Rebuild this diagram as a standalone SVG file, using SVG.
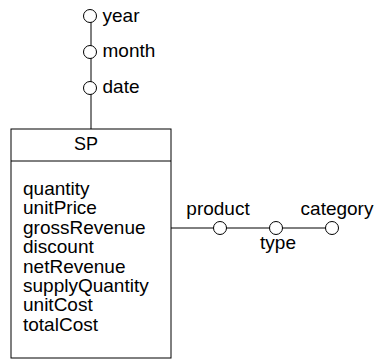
<svg xmlns="http://www.w3.org/2000/svg" width="374" height="361" viewBox="0 0 374 361">
<style>
text{font-family:"Liberation Sans",Arial,sans-serif;font-size:19px;fill:#000}
.hd{font-size:18px}
.ln{stroke:#000;stroke-width:1;fill:none}
.lvl{fill:#fff;stroke:#000;stroke-width:1}
</style>
<rect width="374" height="361" fill="#fff"/>
<g id="connectors">
<line class="ln" x1="91" y1="16" x2="91" y2="129"/>
<line class="ln" x1="171" y1="228" x2="332" y2="228"/>
</g>
<g id="SP">
<rect class="ln" x="11" y="129" width="160" height="229"/>
<line class="ln" x1="11" y1="161" x2="171" y2="161"/>
<text class="hd" x="86" y="150" text-anchor="middle">SP</text>
<text x="23" y="195">quantity</text>
<text x="23" y="214.4">unitPrice</text>
<text x="23" y="233.8">grossRevenue</text>
<text x="23" y="253.2">discount</text>
<text x="23" y="272.6">netRevenue</text>
<text x="23" y="292">supplyQuantity</text>
<text x="23" y="311.4">unitCost</text>
<text x="23" y="330.8">totalCost</text>
</g>
<g id="year"><circle class="lvl" cx="90" cy="16" r="6.5"/><text x="102.5" y="21.7">year</text></g>
<g id="month"><circle class="lvl" cx="90" cy="52" r="6.5"/><text x="102.5" y="57">month</text></g>
<g id="date"><circle class="lvl" cx="90" cy="88" r="6.5"/><text x="102.5" y="92.7">date</text></g>
<g id="product"><circle class="lvl" cx="220" cy="228" r="6.5"/><text x="218" y="215" text-anchor="middle">product</text></g>
<g id="type"><circle class="lvl" cx="276" cy="228" r="6.5"/><text x="278" y="249" text-anchor="middle">type</text></g>
<g id="category"><circle class="lvl" cx="332" cy="228" r="6.5"/><text x="337" y="215" text-anchor="middle">category</text></g>
</svg>
